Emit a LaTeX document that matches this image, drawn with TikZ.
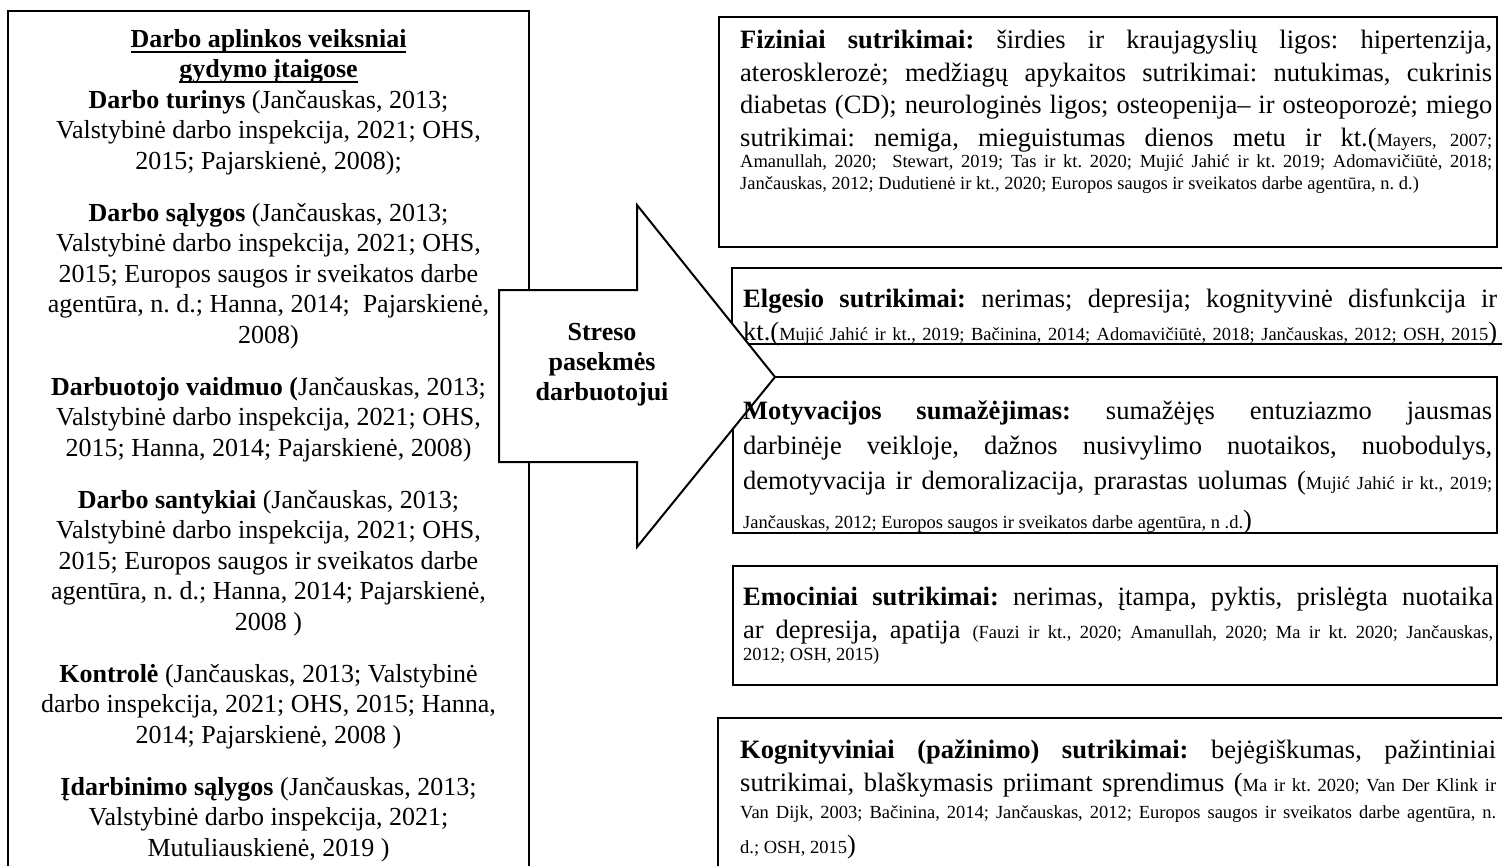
\documentclass[tikz,border=0pt]{standalone}
\usepackage{fontspec}
\setmainfont{Liberation Serif}
\frenchspacing
\newcommand{\refs}[1]{{\fontsize{18.5}{22}\selectfont #1}}
\newcommand{\fl}[2][752pt]{\hbox to #1{#2}}
\newcommand{\ulx}[1]{\setbox0=\hbox{#1}\rlap{\rule[-5.5pt]{\wd0}{2pt}}\box0}
\begin{document}
\begin{tikzpicture}[x=1pt,y=-1pt,
  frame/.style={draw,line width=2.5pt,fill=white},
  body/.style={font=\fontsize{26.5}{32.5}\selectfont,align=left,inner sep=0pt,anchor=base west},
  lefttext/.style={font=\fontsize{26}{30.5}\selectfont,align=center,inner sep=0pt,anchor=base},
  arrowtext/.style={font=\fontsize{26}{30}\selectfont\bfseries,align=center,inner sep=0pt,anchor=base}]
\useasboundingbox (0,0) rectangle (1502,865);
\draw[frame] (8,11) rectangle (529,872);
\draw[frame] (719,17) rectangle (1497,247);
\draw[frame] (732,268) rectangle (1512,344);
\draw[frame] (733,377) rectangle (1497,533);
\draw[frame] (733,566) rectangle (1497,685);
\draw[frame] (718,718) rectangle (1512,875);
\draw[frame,line width=2pt,line join=miter] (499,290) -- (637,290) -- (637,205) -- (775,377)
  -- (637,547) -- (637,462) -- (499,462) -- cycle;
\node[lefttext] (factors) at (268.5,856) {\ulx{\textbf{Darbo aplinkos veiksniai}}\\
  \ulx{\textbf{gydymo įtaigose}}\\
  \textbf{Darbo turinys} (Jančauskas, 2013;\\
  Valstybinė darbo inspekcija, 2021; OHS,\\
  2015; Pajarskienė, 2008);\\[21.5pt]
  \textbf{Darbo sąlygos} (Jančauskas, 2013;\\
  Valstybinė darbo inspekcija, 2021; OHS,\\
  2015; Europos saugos ir sveikatos darbe\\
  agentūra, n. d.; Hanna, 2014;~ Pajarskienė,\\
  2008)\\[21.5pt]
  \textbf{Darbuotojo vaidmuo (}Jančauskas, 2013;\\
  Valstybinė darbo inspekcija, 2021; OHS,\\
  2015; Hanna, 2014; Pajarskienė, 2008)\\[21.5pt]
  \textbf{Darbo santykiai} (Jančauskas, 2013;\\
  Valstybinė darbo inspekcija, 2021; OHS,\\
  2015; Europos saugos ir sveikatos darbe\\
  agentūra, n. d.; Hanna, 2014; Pajarskienė,\\
  2008 )\\[21.5pt]
  \textbf{Kontrolė} (Jančauskas, 2013; Valstybinė\\
  darbo inspekcija, 2021; OHS, 2015; Hanna,\\
  2014; Pajarskienė, 2008 )\\[21.5pt]
  \textbf{Įdarbinimo sąlygos} (Jančauskas, 2013;\\
  Valstybinė darbo inspekcija, 2021;\\
  Mutuliauskienė, 2019 )};
\node[arrowtext] (stress) at (602,400) {Streso\\pasekmės\\darbuotojui};
\node[body] (physical) at (740,189) {%
  \fl{\textbf{Fiziniai sutrikimai:} širdies ir kraujagyslių ligos: hipertenzija,}\\
  \fl{aterosklerozė; medžiagų apykaitos sutrikimai: nutukimas, cukrinis}\\
  \fl{diabetas (CD); neurologinės ligos; osteopenija– ir osteoporozė; miego}\\
  \fl{sutrikimai: nemiga, mieguistumas dienos metu ir kt.(\refs{Mayers, 2007;}}\\[-11.5pt]
  \fl{\refs{Amanullah, 2020;~ Stewart, 2019; Tas ir kt. 2020; Mujić Jahić ir kt. 2019; Adomavičiūtė, 2018;}}\\[-10.5pt]
  \refs{Jančauskas, 2012; Dudutienė ir kt., 2020; Europos saugos ir sveikatos darbe agentūra, n. d.)}};
\node[body] (behaviour) at (743,340) {%
  \fl[754pt]{\textbf{Elgesio sutrikimai:} nerimas; depresija; kognityvinė disfunkcija ir}\\
  \fl[754pt]{kt.(\refs{Mujić Jahić ir kt., 2019; Bačinina, 2014; Adomavičiūtė, 2018; Jančauskas, 2012; OSH, 2015})}};
\begin{scope}
\clip (733,377) rectangle (1497,531);
\node[body] (motivation) at (743,528) {%
  \fl[749pt]{\textbf{Motyvacijos sumažėjimas:} sumažėjęs entuziazmo jausmas}\\[2.5pt]
  \fl[749pt]{darbinėje veikloje, dažnos nusivylimo nuotaikos, nuobodulys,}\\[2.5pt]
  \fl[749pt]{demotyvacija ir demoralizacija, prarastas uolumas (\refs{Mujić Jahić ir kt., 2019;}}\\[6.5pt]
  \refs{Jančauskas, 2012; Europos saugos ir sveikatos darbe agentūra, n .d.})};
\end{scope}
\node[body] (emotional) at (743,660) {%
  \fl[750pt]{\textbf{Emociniai sutrikimai:} nerimas, įtampa, pyktis, prislėgta nuotaika}\\
  \fl[750pt]{ar depresija, apatija \refs{(Fauzi ir kt., 2020; Amanullah, 2020; Ma ir kt. 2020; Jančauskas,}}\\[-10.5pt]
  \refs{2012; OSH, 2015)}};
\node[body] (cognitive) at (740,853) {%
  \fl[756pt]{\textbf{Kognityviniai (pažinimo) sutrikimai:} bejėgiškumas, pažintiniai}\\
  \fl[756pt]{sutrikimai, blaškymasis priimant sprendimus (\refs{Ma ir kt. 2020; Van Der Klink ir}}\\[-5.5pt]
  \fl[756pt]{\refs{Van Dijk, 2003; Bačinina, 2014; Jančauskas, 2012; Europos saugos ir sveikatos darbe agentūra, n.}}\\[2.5pt]
  \refs{d.; OSH, 2015})};
\end{tikzpicture}
\end{document}
